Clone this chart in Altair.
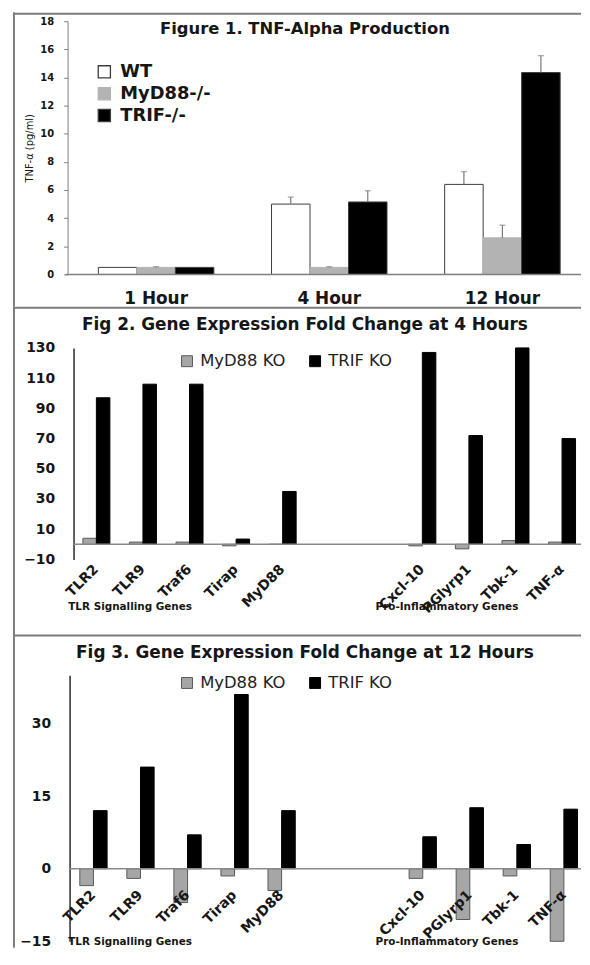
import altair as alt
import pandas as pd

FONT = "DejaVu Sans"
INK = "#161616"
FRAME = "#7c7c7c"

# ---------------- Figure 1 data ----------------
hours = ["1 Hour", "4 Hour", "12 Hour"]
genotypes = ["WT", "MyD88-/-", "TRIF-/-"]
tnf_wt = [0.5, 5.0, 6.4]
tnf_myd88 = [0.5, 0.5, 2.6]
tnf_trif = [0.5, 5.15, 14.35]
sem_wt = [0.0, 0.5, 0.9]
sem_myd88 = [0.05, 0.05, 0.9]
sem_trif = [0.0, 0.8, 1.2]
tnf_ticks = [0, 2, 4, 6, 8, 10, 12, 14, 16, 18]

# ---------------- Figures 2 & 3 data ----------------
genes = ["TLR2", "TLR9", "Traf6", "Tirap", "MyD88", "Cxcl-10", "PGlyrp1", "Tbk-1", "TNF-α"]
gap_slots = [" ", "  "]
knockouts = ["MyD88 KO", "TRIF KO"]
fc4_myd88 = [4.0, 1.5, 1.5, -1.0, 0.0, -1.0, -3.0, 2.5, 1.5]
fc4_trif = [97, 106, 106, 3.5, 35, 127, 72, 130, 70]
fc12_myd88 = [-3.5, -2.0, -7.0, -1.5, -4.5, -2.0, -10.5, -1.5, -15.0]
fc12_trif = [12.0, 21.0, 7.0, 36.0, 12.0, 6.6, 12.6, 5.0, 12.3]
fc4_ticks = [-10, 10, 30, 50, 70, 90, 110, 130]
fc12_ticks = [-15, 0, 15, 30]
gene_groups = ["TLR Signalling Genes", "Pro-Inflammatory Genes"]
title1 = "Figure 1. TNF-Alpha Production"
title2 = "Fig 2. Gene Expression Fold Change at 4 Hours"
title3 = "Fig 3. Gene Expression Fold Change at 12 Hours"

dummy = pd.DataFrame({"d": [0]})
PW = 578


def frame(height):
    top = alt.Chart(dummy).mark_rule(color=FRAME, strokeWidth=2).encode(
        x=alt.value(6), x2=alt.value(PW - 1), y=alt.value(1.5))
    left = alt.Chart(dummy).mark_rule(color=FRAME, strokeWidth=2).encode(
        x=alt.value(6), y=alt.value(0), y2=alt.value(height))
    return [top, left]


def label(text, x, y, size, weight="bold", color=INK):
    return alt.Chart(dummy).mark_text(text=text, font=FONT, fontSize=size,
                                      fontWeight=weight, color=color).encode(
        x=alt.value(x), y=alt.value(y))


# ---------------- Panel 1 ----------------
rows = []
for g, vals, errs in zip(genotypes, [tnf_wt, tnf_myd88, tnf_trif], [sem_wt, sem_myd88, sem_trif]):
    for h, v, e in zip(hours, vals, errs):
        rows.append({"hour": h, "geno": g, "val": v, "err": e, "hi": v + e})
df1 = pd.DataFrame(rows)

H1 = 296
x1 = alt.X("hour:N", sort=hours,
           scale=alt.Scale(domain=hours, range=[91, 556], paddingInner=0.333, paddingOuter=0),
           axis=alt.Axis(title=None, orient="bottom", offset=-32, labelAngle=0, labelFont=FONT,
                         labelFontSize=17, labelFontWeight="bold", labelColor=INK, ticks=False,
                         tickSize=0, labelPadding=16, domain=False))
xo1 = alt.XOffset("geno:N", sort=genotypes, scale=alt.Scale(domain=genotypes))
ys1 = alt.Scale(domain=[0, 18], range=[264, 9], nice=False)
ay1 = alt.Axis(values=tnf_ticks, title="TNF-α (pg/ml)", offset=-60, grid=False, tickSize=4,
               tickColor="#808080", domainColor="#808080", labelFont=FONT, labelFontSize=10,
               labelFontWeight="bold", labelColor=INK, labelPadding=10, titleFont=FONT,
               titleFontSize=10, titleFontWeight="normal", titleColor=INK, titlePadding=5)
leg1 = alt.Legend(title=None, orient="none", legendX=88, legendY=51, symbolType="square",
                  symbolSize=150, symbolStrokeWidth=1.3, labelFont=FONT, labelFontSize=18,
                  labelFontWeight="bold", labelColor=INK, labelOffset=7, rowPadding=4)

bars1 = alt.Chart(df1).mark_bar(strokeWidth=1).encode(
    x=x1, xOffset=xo1,
    y=alt.Y("val:Q", scale=ys1, axis=ay1),
    color=alt.Color("geno:N", sort=genotypes,
                    scale=alt.Scale(domain=genotypes, range=["#ffffff", "#b3b3b3", "#000000"]),
                    legend=leg1),
    stroke=alt.Stroke("geno:N", sort=genotypes,
                      scale=alt.Scale(domain=genotypes, range=["#3c3c3c", "#b3b3b3", "#3c3c3c"]),
                      legend=leg1),
)
errs1 = alt.Chart(df1).transform_filter("datum.err > 0").mark_rule(
    color="#7a7a7a", strokeWidth=1.2).encode(
    x=x1, xOffset=xo1, y=alt.Y("val:Q", scale=ys1, axis=ay1), y2="hi:Q")
caps1 = alt.Chart(df1).transform_filter("datum.err > 0").mark_tick(
    color="#7a7a7a", thickness=1.2, size=6, orient="horizontal").encode(
    x=x1, xOffset=xo1, y=alt.Y("hi:Q", scale=ys1, axis=ay1))
base1 = alt.Chart(dummy).mark_rule(color="#808080", strokeWidth=1.5).encode(
    x=alt.value(58), x2=alt.value(PW - 1),
    y=alt.Y(datum=0, type="quantitative", scale=ys1, axis=ay1))

p1 = alt.layer(*frame(H1), bars1, base1, errs1, caps1,
               label(title1, 299, 17, 16.5)).properties(width=PW, height=H1)


# ---------------- Panels 2 & 3 ----------------
def gene_panel(myd, trif, ticks, domain, y_range, x_range, axis_x, lab_y, title, leg_y,
               height, grp_y):
    rows = []
    for k, vals in zip(knockouts, [myd, trif]):
        for gname, v in zip(genes, vals):
            rows.append({"gene": gname, "ko": k, "val": v})
    df = pd.DataFrame(rows)
    slots = genes[:5] + gap_slots + genes[5:]
    xs = alt.Scale(domain=slots, range=x_range, paddingInner=0.42, paddingOuter=0)
    x = alt.X("gene:N", scale=xs, axis=None)
    ys = alt.Scale(domain=domain, range=y_range, nice=False, zero=False)
    ay = alt.Axis(values=ticks, title=None, offset=-axis_x, grid=False, ticks=False,
                  tickSize=0, domainColor="#2a2a2a", domainWidth=1.5, labelFont=FONT,
                  labelFontSize=14, labelFontWeight="bold", labelColor=INK, labelPadding=19)
    leg = alt.Legend(title=None, orient="none", direction="horizontal", legendX=172,
                     legendY=leg_y, symbolType="square", symbolSize=121, symbolStrokeWidth=1,
                     labelFont=FONT, labelFontSize=16.5, labelFontWeight="normal",
                     labelColor="#222222", labelOffset=5, columnPadding=21)
    bars = alt.Chart(df).mark_bar(strokeWidth=1).encode(
        x=x,
        xOffset=alt.XOffset("ko:N", sort=knockouts, scale=alt.Scale(domain=knockouts)),
        y=alt.Y("val:Q", scale=ys, axis=ay),
        color=alt.Color("ko:N", sort=knockouts,
                        scale=alt.Scale(domain=knockouts, range=["#a6a6a6", "#000000"]),
                        legend=leg),
        stroke=alt.Stroke("ko:N", sort=knockouts,
                          scale=alt.Scale(domain=knockouts, range=["#595959", "#000000"]),
                          legend=leg),
    )
    zero = alt.Chart(dummy).mark_rule(color="#8a8a8a", strokeWidth=1.5).encode(
        x=alt.value(axis_x), x2=alt.value(PW - 1),
        y=alt.Y(datum=0, type="quantitative", scale=ys, axis=ay))
    labs = alt.Chart(pd.DataFrame({"gene": genes})).mark_text(
        angle=315, align="right", baseline="middle", font=FONT, fontSize=14,
        fontWeight="bold", color=INK).encode(x=x, y=alt.value(lab_y), text="gene:N")
    return alt.layer(
        *frame(height), bars, zero, labs,
        label(title, 299, 19, 17),
        label(gene_groups[0], 123, grp_y, 10.5),
        label(gene_groups[1], 442, grp_y, 10.5),
    ).properties(width=PW, height=height)


p2 = gene_panel(fc4_myd88, fc4_trif, fc4_ticks, [-10, 130], [255, 42], [75.4, 571.5], 66,
                263, title2, 47, 330, 303)
p3 = gene_panel(fc12_myd88, fc12_trif, fc12_ticks, [-15, 40], [309.5, 41.5], [72.3, 573.5], 62,
                261, title3, 41, 316, 310)

chart = alt.concat(p1, p2, p3, columns=1, spacing=0, bounds="flush", align="none").properties(
    padding=0).resolve_scale(
    x="independent", y="independent", xOffset="independent",
    color="independent", stroke="independent").resolve_legend(
    color="independent", stroke="independent").configure_view(stroke=None)

chart.save("out.html", embed_options={"renderer": "svg", "actions": False})
